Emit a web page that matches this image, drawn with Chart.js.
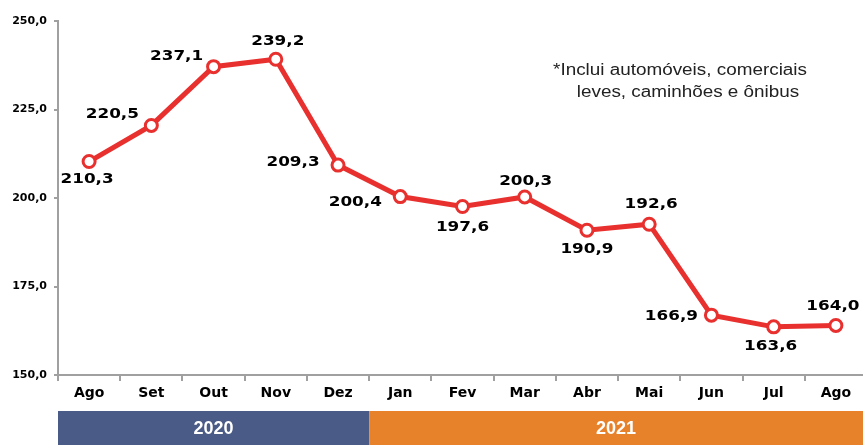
<!DOCTYPE html>
<html>
<head>
<meta charset="utf-8">
<script src="https://cdn.jsdelivr.net/npm/chart.js@4/dist/chart.umd.min.js"></script>
<style>
html,body{margin:0;padding:0;background:#fff;overflow:hidden;}
#wrap{position:relative;width:863px;height:445px;overflow:hidden;}
</style>
</head>
<body>
<div id="wrap"><canvas id="c" width="876" height="445"></canvas></div>
<script>
// ---- data ----
const categories = ["Ago","Set","Out","Nov","Dez","Jan","Fev","Mar","Abr","Mai","Jun","Jul","Ago"];
const values = [210.3, 220.5, 237.1, 239.2, 209.3, 200.4, 197.6, 200.3, 190.9, 192.6, 166.9, 163.6, 164.0];
const yTicks = [150, 175, 200, 225, 250];
const years = ["2020", "2021"];
const yearStartIndex = [0, 5];
const noteLines = ["*Inclui automóveis, comerciais", "leves, caminhões e ônibus"];

// ---- label placement (style) ----
const labelOffsets = [[-2,18],[-39,-11],[-37,-10],[2,-18],[-45,-3],[-45,6],[0,21],[1,-16],[0,19],[2,-20],[-40,1],[-3,20],[-3,-19]];

const fmt = v => v.toFixed(1).replace('.', ',');
const VISIBLE_W = 863;

const overlay = {
  id: 'overlay',
  afterDatasetsDraw(chart) {
    const ctx = chart.ctx;
    const meta = chart.getDatasetMeta(0);
    ctx.save();
    ctx.fillStyle = '#000';
    ctx.font = 'bold 14px "DejaVu Sans"';
    ctx.textAlign = 'center';
    ctx.textBaseline = 'middle';
    meta.data.forEach((pt, i) => {
      const o = labelOffsets[i];
      ctx.save();
      ctx.translate(pt.x + o[0], pt.y + o[1]);
      ctx.scale(1.2, 1);
      ctx.fillText(fmt(values[i]), 0, 0);
      ctx.restore();
    });
    // note
    ctx.fillStyle = '#222';
    ctx.font = '16px "Liberation Sans"';
    const nx = [680, 688], ny = [71, 93];
    noteLines.forEach((t, i) => {
      ctx.save();
      ctx.translate(nx[i], ny[i]);
      ctx.scale(1.18, 1);
      ctx.fillText(t, 0, 0);
      ctx.restore();
    });
    // year band
    const xs = chart.scales.x;
    const half = (xs.getPixelForValue(1) - xs.getPixelForValue(0)) / 2;
    const colors = ['#4a5b87', '#e8822a'];
    const top = 411, bottom = 445;
    for (let k = 0; k < years.length; k++) {
      const x0 = xs.getPixelForValue(yearStartIndex[k]) - half;
      const x1 = k + 1 < years.length ? xs.getPixelForValue(yearStartIndex[k+1]) - half : VISIBLE_W;
      ctx.fillStyle = colors[k];
      ctx.fillRect(x0, top, (k + 1 < years.length ? x1 : chart.width) - x0, bottom - top);
      ctx.fillStyle = '#fff';
      ctx.font = 'bold 18px "Liberation Sans"';
      ctx.fillText(years[k], (x0 + x1) / 2, (top + bottom) / 2 + 1);
    }
    ctx.restore();
  }
};

new Chart(document.getElementById('c'), {
  type: 'line',
  data: {
    labels: categories,
    datasets: [{
      data: values,
      borderColor: '#e8302e',
      borderWidth: 5,
      pointRadius: 6,
      pointBorderWidth: 3,
      pointBackgroundColor: '#fff',
      pointBorderColor: '#e8302e',
      tension: 0
    }]
  },
  options: {
    responsive: false,
    animation: false,
    layout: { padding: { top: 21, right: 0, bottom: 34, left: 0 } },
    plugins: { legend: { display: false }, tooltip: { enabled: false } },
    scales: {
      x: {
        offset: true,
        grid: { offset: true, drawOnChartArea: false, drawTicks: true, tickLength: 6, color: '#a0a0a0', lineWidth: 2 },
        border: { color: '#a0a0a0', width: 2 },
        ticks: { color: '#000', font: { family: 'DejaVu Sans', weight: 'bold', size: 14 }, padding: 4, maxRotation: 0, autoSkip: false },
        afterFit(s) { s.height = 36; }
      },
      y: {
        min: 150, max: 250,
        afterBuildTicks(s) { s.ticks = yTicks.map(v => ({ value: v })); },
        grid: { drawOnChartArea: false, drawTicks: true, tickLength: 4, color: '#a0a0a0', lineWidth: 2 },
        border: { color: '#a0a0a0', width: 2 },
        ticks: { color: '#000', font: { family: 'DejaVu Sans', weight: 'bold', size: 11 }, padding: 7, callback: v => fmt(v) },
        afterFit(s) { s.width = 58; }
      }
    }
  },
  plugins: [overlay]
});
</script>
</body>
</html>
